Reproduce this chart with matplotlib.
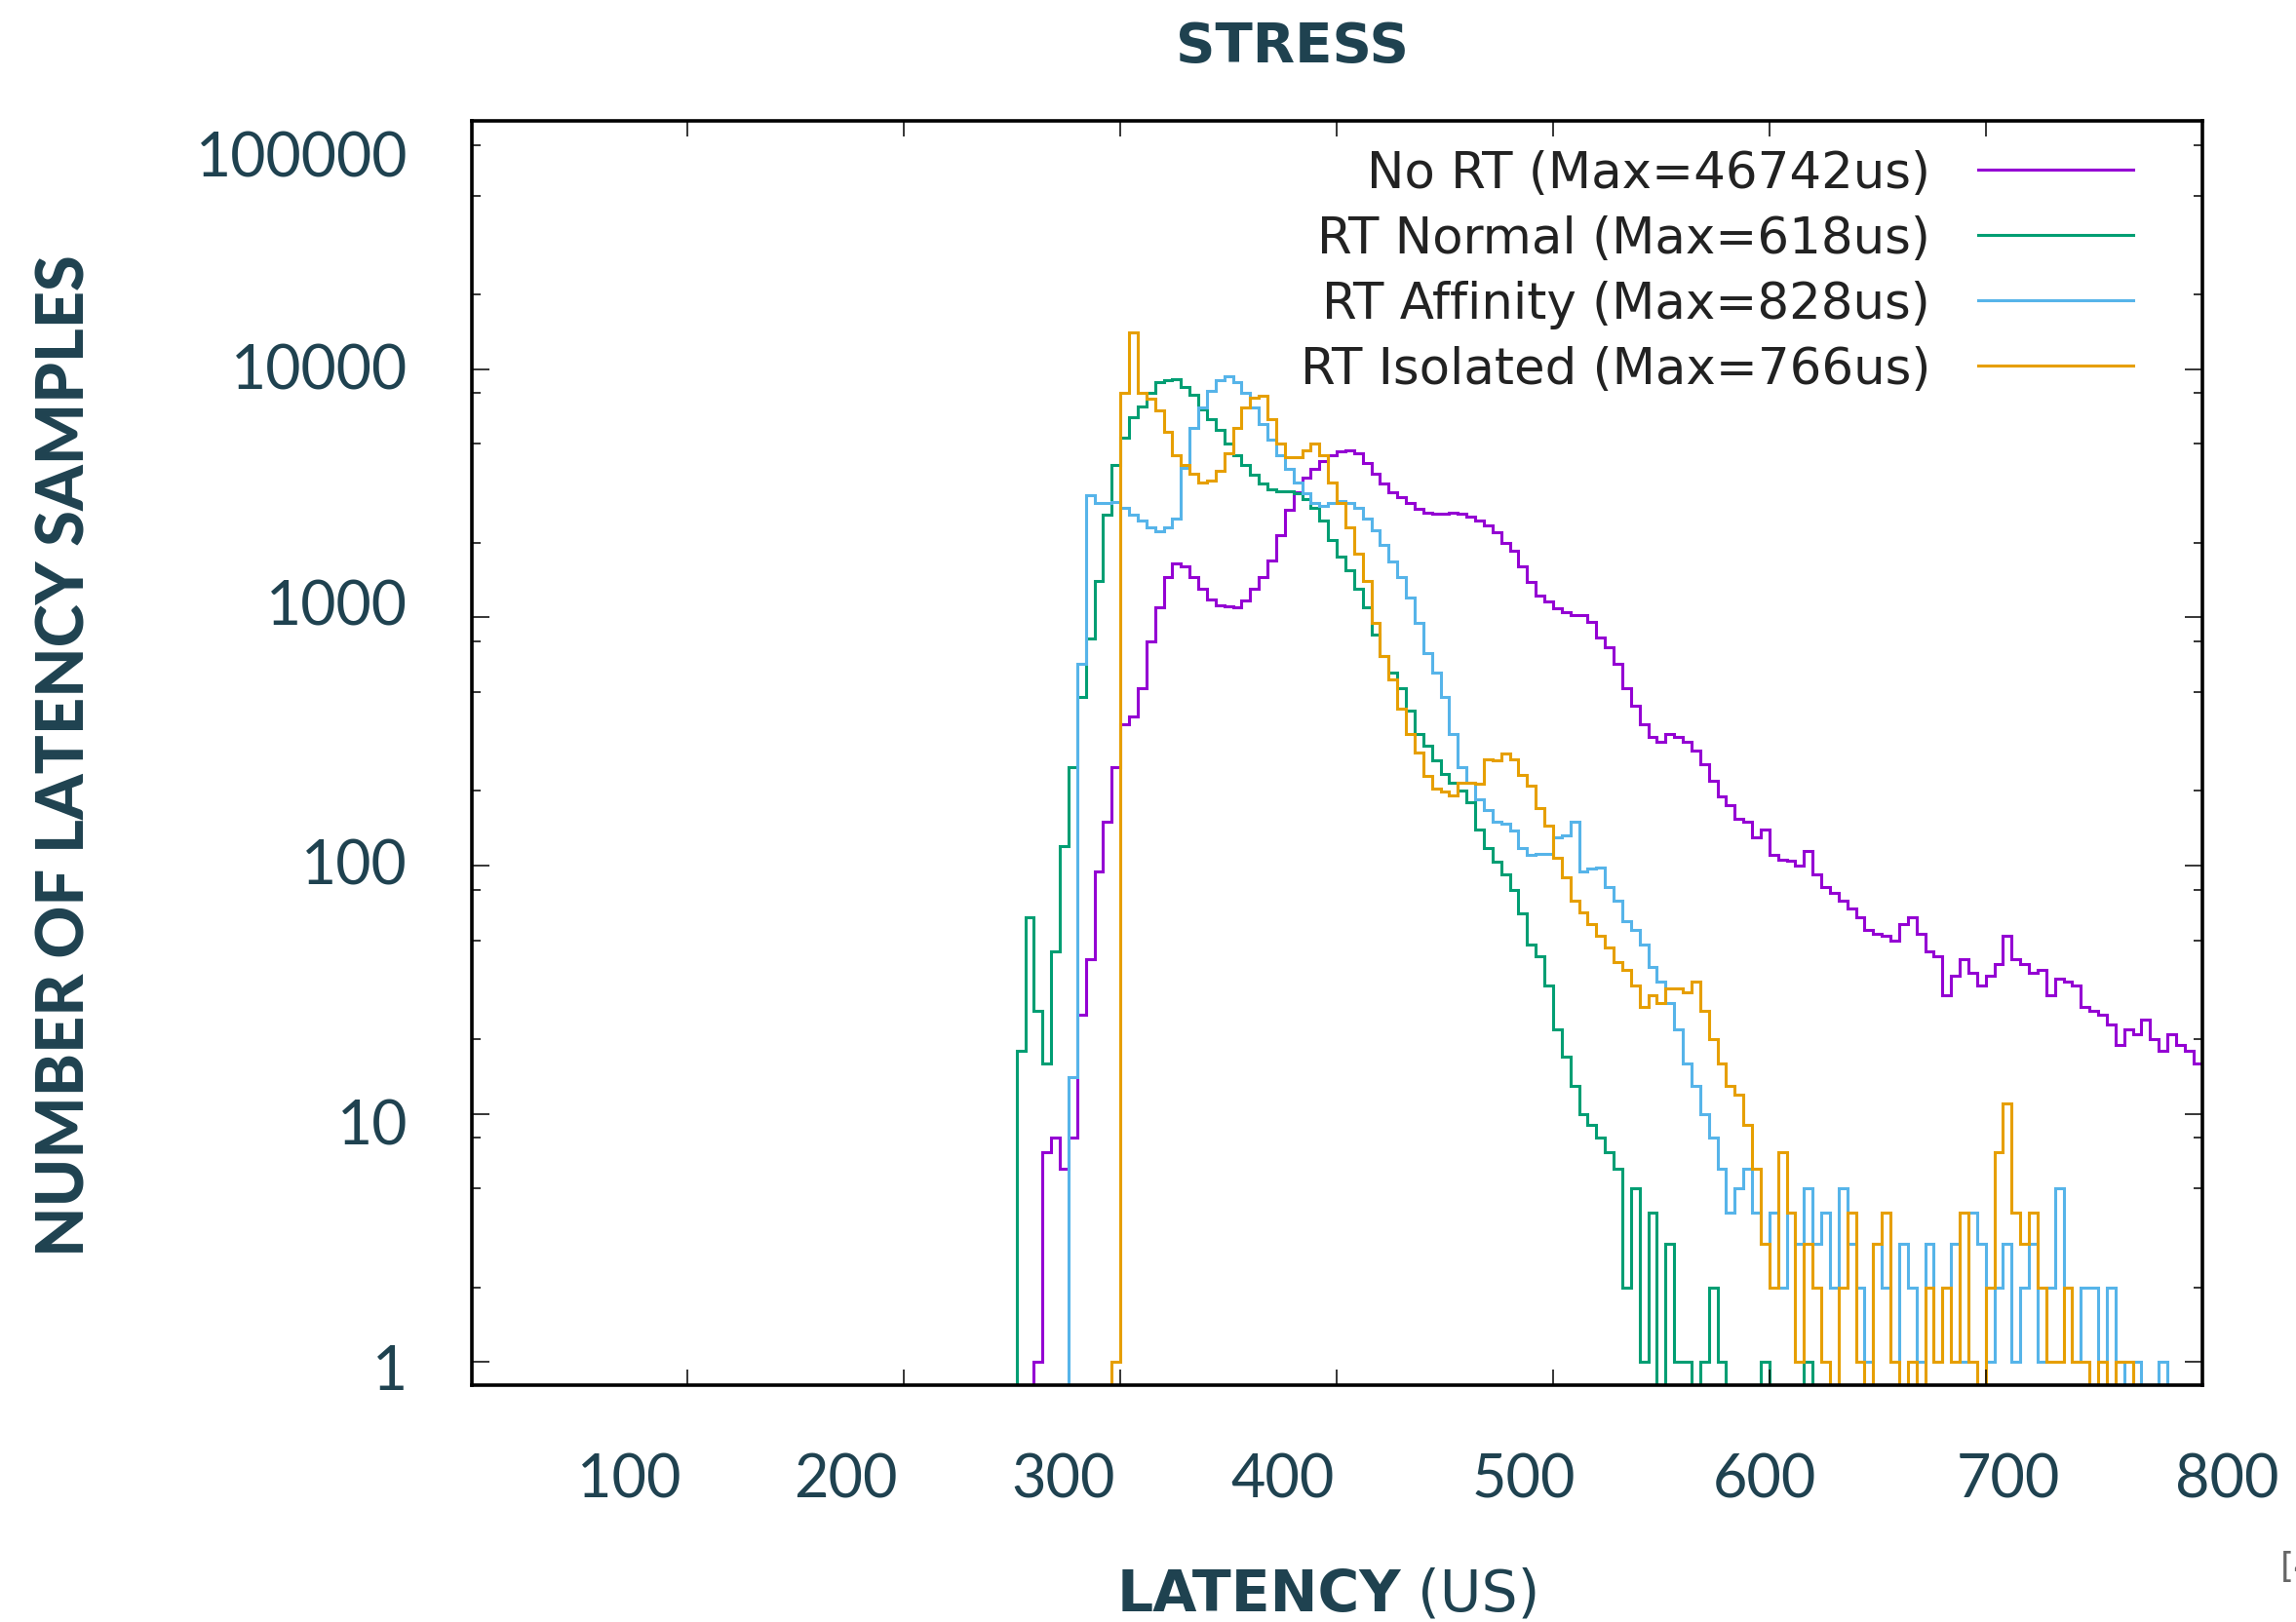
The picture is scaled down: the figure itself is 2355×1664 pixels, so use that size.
import numpy as np
import matplotlib
matplotlib.use("Agg")
import matplotlib.pyplot as plt

# histogram counts, 4 us bins (0 = empty bin)
BIN = 4
no_rt_start = 260
no_rt = [1, 7, 8, 6, 8, 25, 42, 95, 150, 250, 370, 400, 520, 800, 1100, 1450,
         1650, 1600, 1450, 1300, 1180, 1120, 1105, 1100, 1170, 1300, 1450, 1700, 2150, 2700, 3200, 3650,
         3950, 4250, 4500, 4650, 4720, 4600, 4200, 3800, 3450, 3200, 3050, 2880, 2730, 2650, 2620, 2620,
         2650, 2620, 2550, 2460, 2350, 2200, 2000, 1850, 1600, 1390, 1220, 1160, 1090, 1050, 1024, 1024,
         960, 830, 760, 650, 520, 440, 370, 330, 315, 340, 330, 315, 290, 255, 220, 190,
         175, 155, 150, 130, 140, 110, 106, 105, 100, 115, 92, 82, 78, 72, 67, 62,
         55, 53, 52, 50, 58, 62, 53, 45, 43, 30, 36, 42, 37, 33, 36, 40,
         52, 42, 40, 37, 38, 30, 35, 34, 33, 27, 26, 25, 23, 19, 22, 21,
         24, 20, 18, 21, 19, 18, 16]

rt_normal_start = 252
rt_normal = [18, 62, 26, 16, 45, 120, 250, 480, 820, 1400, 2600, 4100, 5300, 6400, 7100, 8000,
             8900, 9000, 9100, 8500, 7900, 6900, 6300, 5700, 5000, 4500, 4100, 3750, 3450, 3280, 3230, 3230,
             3150, 3000, 2750, 2450, 2050, 1750, 1550, 1300, 1100, 850, 700, 600, 520, 420, 340, 305,
             265, 235, 215, 200, 180, 140, 118, 104, 92, 80, 64, 48, 43, 33, 22, 17,
             13, 10, 9, 8, 7, 6, 2, 5, 1, 4, 0, 3, 1, 1, 0, 1,
             2, 1, 0, 0, 0, 0, 1, 0, 0, 0, 0, 1]

rt_affinity_start = 276
rt_affinity = [14, 650, 3100, 2900, 2880, 2920, 2750, 2600, 2450, 2300, 2230, 2300, 2500, 4000, 5800, 7000,
               8200, 9000, 9400, 8900, 8000, 7000, 6000, 5200, 4500, 3950, 3500, 3150, 2900, 2820, 2900, 2950,
               2900, 2750, 2500, 2250, 1950, 1680, 1450, 1200, 950, 720, 600, 480, 340, 250, 215, 185,
               168, 150, 148, 138, 118, 110, 112, 112, 130, 132, 150, 95, 97, 98, 82, 72, 60,
               55, 48, 39, 34, 28, 22, 16, 13, 10, 8, 6, 4, 5, 6, 4, 3,
               4, 2, 4, 3, 5, 3, 4, 2, 5, 3, 2, 1, 3, 2, 1, 3,
               2, 1, 3, 1, 2, 3, 1, 4, 3, 1, 2, 3, 1, 2, 3, 1,
               2, 5, 2, 1, 2, 2, 1, 2, 1, 0, 1, 0, 0, 1]

rt_isolated_start = 296
rt_isolated = [1, 8000, 14000, 8000, 7600, 6800, 5600, 4500, 4100, 3800, 3500, 3550, 3900, 4600, 5800, 7000,
               7700, 7800, 6300, 5000, 4400, 4400, 4700, 5000, 4500, 3500, 2900, 2300, 1800, 1400, 950, 700,
               560, 430, 340, 285, 230, 205, 198, 192, 215, 215, 213, 268, 265, 282, 268, 232,
               210, 170, 145, 108, 90, 72, 65, 58, 52, 47, 41, 38, 33, 27, 30, 28,
               32, 32, 31, 34, 26, 20, 16, 13, 12, 9, 6, 3, 2, 7, 4, 1,
               3, 2, 1, 0, 2, 4, 1, 0, 3, 4, 1, 0, 1, 0, 2, 1,
               2, 1, 4, 1, 0, 2, 7, 11, 4, 3, 4, 2, 1, 1, 2, 1,
               1, 0, 1, 0, 1, 1]

series = [
    ("No RT (Max=46742us)", no_rt_start, no_rt, "#9400d3"),
    ("RT Normal (Max=618us)", rt_normal_start, rt_normal, "#009e73"),
    ("RT Affinity (Max=828us)", rt_affinity_start, rt_affinity, "#56b4e9"),
    ("RT Isolated (Max=766us)", rt_isolated_start, rt_isolated, "#e69f00"),
]

# slide overlay labels (placed by hand on the slide, not on the tick marks)
x_overlay = ["100", "200", "300", "400", "500", "600", "700", "800"]
x_overlay_px = [645, 867, 1091, 1316, 1563, 1810, 2060, 2284]
y_overlay = ["100000", "10000", "1000", "100", "10", "1"]
y_overlay_base = [182, 400, 641, 908, 1175, 1426]

W, H = 2355, 1665
TXT = "#1f4250"

fig = plt.figure(figsize=(W / 100, H / 100), dpi=100)
ax = fig.add_axes([483.5 / W, 1 - 1421.7 / H, 1775 / W, 1296.7 / H])

for label, start, vals, col in series:
    edges = start + BIN * np.arange(len(vals) + 1)
    ax.stairs(vals, edges, baseline=0, color=col, lw=2.2, label=label)

ax.set_yscale("log")
ax.set_xlim(0, 800)
ax.set_ylim(0.81, 1e5)
ax.set_xticks(range(100, 800, 100))
ax.set_yticks([1, 10, 100, 1000, 10000, 100000])
ax.yaxis.set_minor_locator(matplotlib.ticker.LogLocator(base=10, subs=(2, 5, 8)))
ax.xaxis.set_minor_locator(matplotlib.ticker.NullLocator())
ax.tick_params(which="both", direction="in", top=True, right=True,
               labelbottom=False, labelleft=False, color="black", width=1.1)
ax.tick_params(axis="x", which="major", length=11.5)
ax.tick_params(axis="y", which="major", length=13)
ax.tick_params(axis="y", which="minor", length=6.5)
for s in ax.spines.values():
    s.set_linewidth(2.6)

leg = ax.legend(loc="upper right", bbox_to_anchor=(2188 / W, 1 - 154 / H),
                bbox_transform=fig.transFigure, frameon=False, markerfirst=False,
                prop={"family": "DejaVu Sans", "size": 37}, handlelength=3.1,
                handletextpad=0.95, labelspacing=0.33, borderpad=0, borderaxespad=0)
for t in leg.get_texts():
    t.set_color("#222222")

def fx(px):
    return px / W

def fy(px):
    return 1 - px / H

for lab, px in zip(x_overlay, x_overlay_px):
    fig.text(fx(px), fy(1537), lab, ha="center", va="baseline",
             family="Lato", fontsize=44, color=TXT)
for lab, py in zip(y_overlay, y_overlay_base):
    fig.text(fx(418), fy(py), lab, ha="right", va="baseline",
             family="Lato", fontsize=45, color=TXT)

fig.text(fx(1326), fy(63), "STRESS", ha="center", va="baseline",
         family="DejaVu Sans", fontweight="bold", fontsize=40.5, color=TXT)
fig.text(fx(1437), fy(1653), "LATENCY", ha="right", va="baseline",
         family="DejaVu Sans", fontweight="bold", fontsize=42, color=TXT)
fig.text(fx(1454), fy(1653), "(US)", ha="left", va="baseline",
         family="DejaVu Sans", fontsize=42, color=TXT)
fig.text(fx(87), fy(775), "NUMBER OF LATENCY SAMPLES", rotation=90,
         rotation_mode="anchor", ha="center", va="baseline",
         family="Lato", fontweight="black", fontsize=48, color=TXT)
fig.text(fx(2339), fy(1618), "[4]", ha="left", va="baseline",
         family="DejaVu Sans", fontsize=26, color="#666666")

fig.savefig("out.png", dpi=100)
